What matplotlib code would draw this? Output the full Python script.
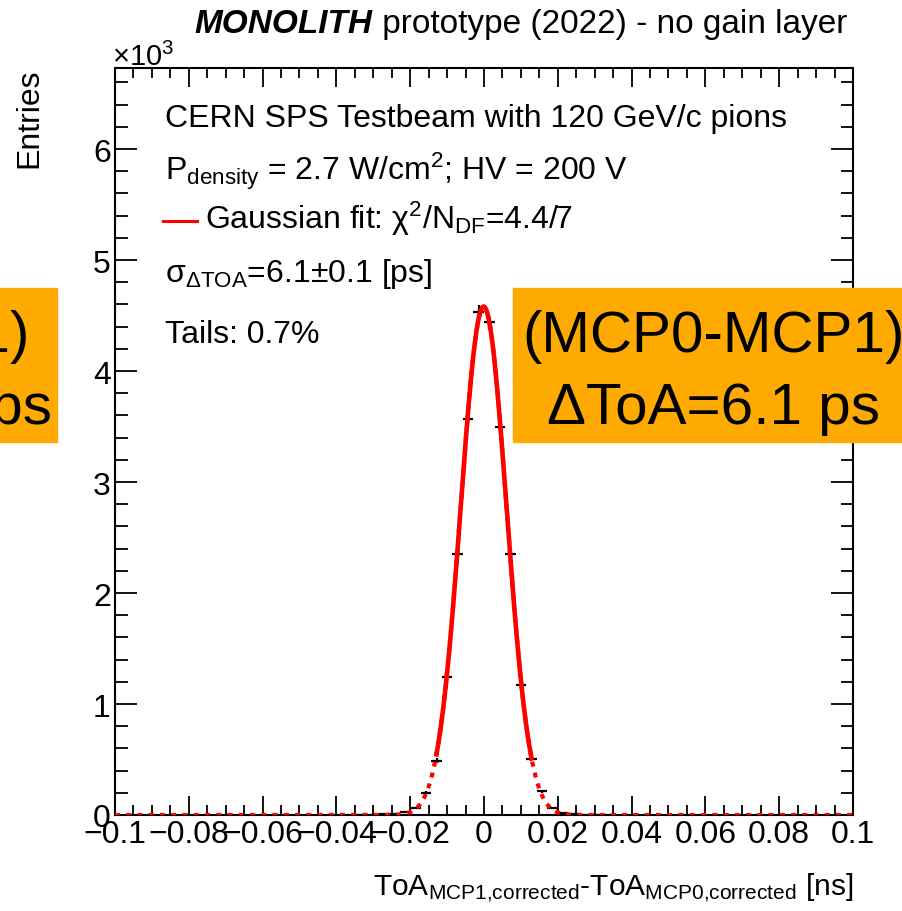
import numpy as np
import matplotlib
matplotlib.use("Agg")
import matplotlib.pyplot as plt
from matplotlib.ticker import MultipleLocator, FuncFormatter
from matplotlib.patches import Rectangle

plt.rcParams['font.family'] = ['Liberation Sans', 'DejaVu Sans']
plt.rcParams['mathtext.fontset'] = 'custom'
plt.rcParams['mathtext.rm'] = 'Liberation Sans'
plt.rcParams['mathtext.it'] = 'Liberation Sans:italic'
plt.rcParams['mathtext.bf'] = 'Liberation Sans:bold'
plt.rcParams['axes.unicode_minus'] = True

# histogram: 70 bins between -0.1 and 0.1 ns
x_lo, x_hi, n_bins = -0.1, 0.1, 70
counts = [0] * 22 + [1, 2, 3, 5, 10, 27, 63, 200, 490, 1240, 2350, 3570, 4530,
                     4440, 3500, 2350, 1170, 505, 215, 63, 20, 8, 3, 2, 1] + [0] * 23

# gaussian fit parameters
fit_amp = 4580.0
fit_mean = -0.0001
fit_sigma = 0.0062
fit_range = (-0.013, 0.013)

title_bold = "MONOLITH"
title_rest = " prototype (2022) - no gain layer"
info_lines = [
    "CERN SPS Testbeam with 120 GeV/c pions",
    r"P$_{\mathrm{density}}$ = 2.7 W/cm$^{2}$; HV = 200 V",
    r"Gaussian fit: χ$^{2}$/N$_{\mathrm{DF}}$=4.4/7",
    r"σ$_{\mathrm{\Delta TOA}}$=6.1±0.1 [ps]",
    "Tails: 0.7%",
]
box_lines = ["(MCP0-MCP1)", "ΔToA=6.1 ps"]

W, H = 903, 912
fig = plt.figure(figsize=(W / 100, H / 100), dpi=100)
ax = fig.add_axes([115 / W, 1 - 816 / H, 738 / W, 747 / H])

edges = np.linspace(x_lo, x_hi, n_bins + 1)
centers = 0.5 * (edges[:-1] + edges[1:])
bw = edges[1] - edges[0]
y = np.array(counts, dtype=float)
m = y > 0
ax.errorbar(centers[m], y[m], xerr=bw / 2, yerr=np.sqrt(y[m]), fmt='none',
            ecolor='black', elinewidth=1.6, capsize=0, zorder=2)

def gaus(x):
    return fit_amp * np.exp(-0.5 * ((x - fit_mean) / fit_sigma) ** 2)

# fit drawn dotted over the full range, solid inside the fit range
xx = np.linspace(x_lo, x_hi, 2000)
ax.plot(xx, gaus(xx), color='red', lw=3.0, ls=(0, (1.2, 1.5)), zorder=3)
xs = np.linspace(fit_range[0], fit_range[1], 500)
ax.plot(xs, gaus(xs), color='red', lw=3.3, zorder=4, solid_capstyle='butt')

ax.set_xlim(x_lo, x_hi)
ax.set_ylim(0, 6730)
ax.xaxis.set_major_locator(MultipleLocator(0.02))
ax.xaxis.set_minor_locator(MultipleLocator(0.005))
ax.yaxis.set_major_locator(MultipleLocator(1000))
ax.yaxis.set_minor_locator(MultipleLocator(200))

def xfmt(v, pos):
    if abs(v) < 1e-9:
        return "0"
    s = ("%.2f" % v).rstrip('0').rstrip('.')
    return s.replace('-', '\u2212')

ax.xaxis.set_major_formatter(FuncFormatter(xfmt))
ax.yaxis.set_major_formatter(FuncFormatter(lambda v, p: "%d" % round(v / 1000)))
ax.tick_params(which='both', direction='in', top=True, right=True,
               labelsize=23, width=1.3, pad=3)
ax.tick_params(axis='x', which='major', length=14)
ax.tick_params(axis='x', which='minor', length=7)
ax.tick_params(axis='y', which='major', length=16)
ax.tick_params(axis='y', which='minor', length=9)
for sp in ax.spines.values():
    sp.set_linewidth(1.5)

# axis titles
fig.text(853 / W, 1 - 895 / H,
         r"ToA$_{\mathrm{MCP1{,}corrected}}$-ToA$_{\mathrm{MCP0{,}corrected}}$ [ns]",
         ha='right', va='baseline', fontsize=21.5)
fig.text(29 / W, 1 - 69 / H, "Entries", rotation=90, ha='center', va='top', fontsize=23)
fig.text(112 / W, 1 - 66 / H, r"×10$^{3}$", ha='left', va='baseline', fontsize=21)

# title with bold italic part
t2 = fig.text(847 / W, 1 - 33 / H, title_rest, ha='right', va='baseline', fontsize=24)
fig.canvas.draw()
bb = t2.get_window_extent()
fig.text(bb.x0 / W, 1 - 33 / H, title_bold, ha='right', va='baseline', fontsize=24,
         fontweight='bold', fontstyle='italic')

# info block
baselines = [127, 180, 229, 282, 343]
for i, (txt, yb) in enumerate(zip(info_lines, baselines)):
    x0 = 205 if i == 2 else 165
    fig.text(x0 / W, 1 - yb / H, txt, ha='left', va='baseline', fontsize=23)
fig.add_artist(plt.Line2D([163 / W, 197 / W], [1 - 222 / H, 1 - 222 / H], color='red', lw=2.2))

# orange overlay boxes
orange = '#FFAA00'
fig.add_artist(Rectangle((513 / W, 1 - 443 / H), 400 / W, 154 / H, color=orange,
                         transform=fig.transFigure, zorder=5))
fig.add_artist(Rectangle((-10 / W, 1 - 443 / H), 67 / W, 154 / H, color=orange,
                         transform=fig.transFigure, zorder=5))
fig.text(714 / W, 1 - 352 / H, box_lines[0], ha='center', va='baseline', fontsize=42, zorder=6)
fig.text(714 / W, 1 - 424 / H, box_lines[1], ha='center', va='baseline', fontsize=42, zorder=6)
# right end of a neighbouring box that is cut by the picture edge
fig.text(30 / W, 1 - 352 / H, box_lines[0], ha='right', va='baseline', fontsize=42, zorder=6)
fig.text(52 / W, 1 - 424 / H, box_lines[1], ha='right', va='baseline', fontsize=42, zorder=6)

fig.savefig("out.png", dpi=100)
